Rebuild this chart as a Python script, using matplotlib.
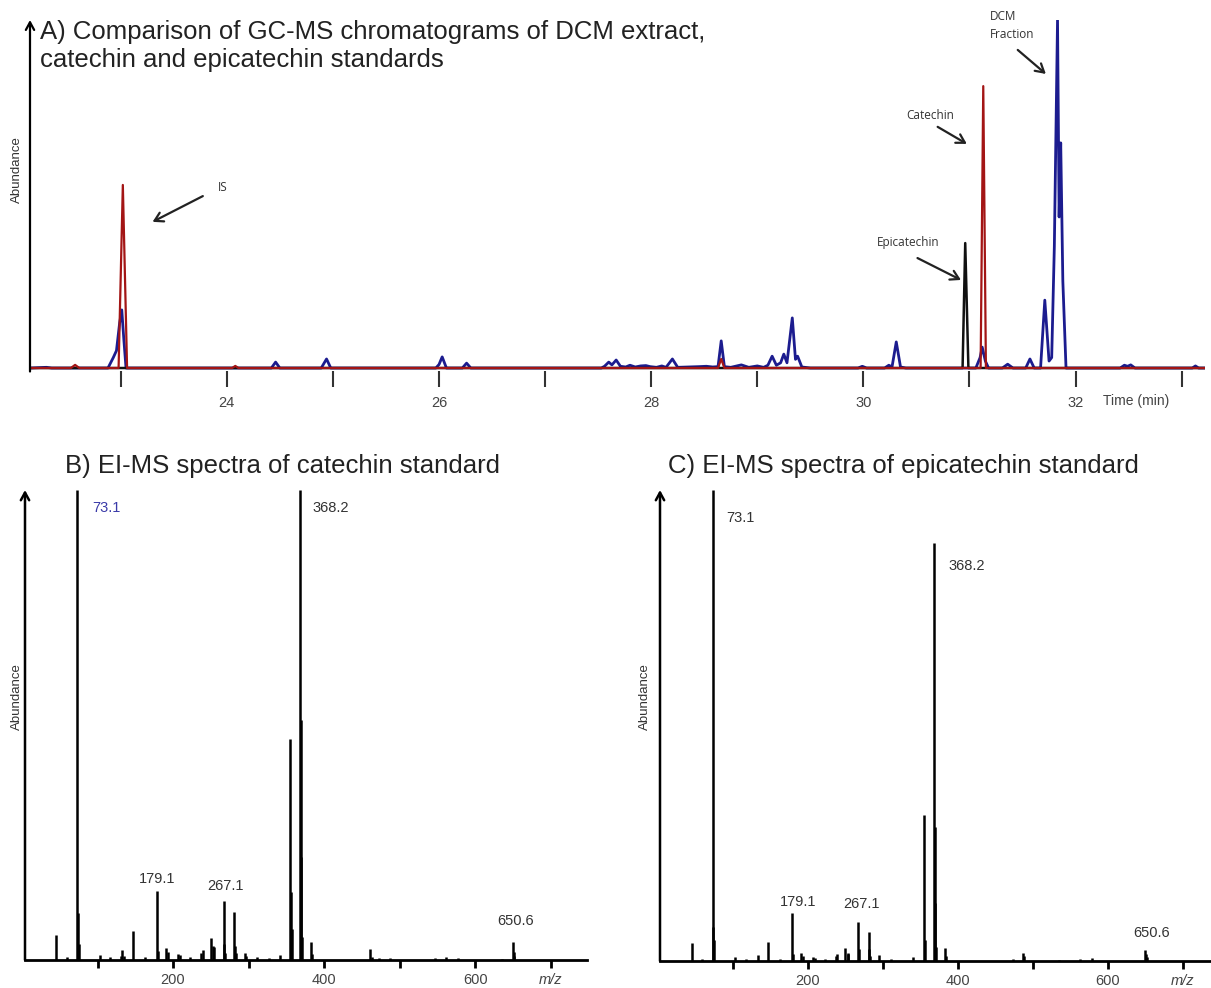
import matplotlib
matplotlib.use("Agg")
import matplotlib.pyplot as plt

W, H = 1211, 988
plt.rcParams['font.family'] = ['Liberation Sans', 'DejaVu Sans']

# ---------------- data: GC-MS chromatograms (time in min, abundance in % of max) ------
dcm_time = [22.15, 22.30, 22.35, 22.88, 22.93, 22.96, 22.99, 23.01, 23.03, 23.05,
            24.42, 24.46, 24.50, 24.89, 24.94, 24.98,
            25.97, 26.00, 26.03, 26.07, 26.22, 26.26, 26.30,
            27.53, 27.56, 27.60, 27.63, 27.67, 27.71, 27.76, 27.80, 27.85, 27.90, 27.95,
            27.99, 28.05, 28.10, 28.14, 28.20, 28.25, 28.35, 28.45, 28.52, 28.58, 28.63,
            28.66, 28.69, 28.75, 28.85, 28.92, 29.00, 29.06, 29.10, 29.14, 29.18, 29.22,
            29.25, 29.28, 29.33, 29.36, 29.38, 29.42, 29.50,
            29.95, 29.99, 30.03, 30.20, 30.24, 30.27, 30.31, 30.35, 30.40,
            31.06, 31.10, 31.12, 31.15, 31.18, 31.31, 31.36, 31.41, 31.53, 31.57, 31.61,
            31.67, 31.71, 31.75, 31.775, 31.80, 31.83, 31.845, 31.86, 31.88, 31.91,
            32.42, 32.46, 32.49, 32.52, 32.56, 33.10, 33.13, 33.16, 33.22]
dcm_abund = [0, 0.2, 0, 0, 3, 5, 13, 16.7, 8, 0,
             0, 1.7, 0, 0, 2.6, 0,
             0, 1.0, 3.2, 0, 0, 1.4, 0,
             0, 0.5, 1.7, 0.9, 2.3, 0.5, 0.3, 0.8, 0.3, 0.6, 0.7,
             0.4, 0.2, 0.6, 0.2, 2.6, 0.2, 0.3, 0.4, 0.5, 0.3, 0.4,
             7.8, 0.4, 0.2, 0.9, 0.2, 0.6, 0.2, 0.8, 3.4, 0.8, 1.5,
             4.0, 1.5, 14.4, 2.5, 3.4, 0.3, 0,
             0, 0.5, 0, 0, 0.8, 0.3, 7.5, 0.3, 0,
             0, 3, 6, 2, 0, 0, 1.1, 0, 0, 2.6, 0,
             0, 19.5, 2, 3, 35, 100, 43.4, 64.7, 25, 0,
             0, 0.8, 0.5, 0.9, 0, 0, 0.6, 0, 0]

cat_time = [22.15, 22.53, 22.57, 22.61, 22.98, 23.02, 23.06, 24.05, 24.08, 24.11,
            28.63, 28.66, 28.69, 31.105, 31.13, 31.155, 33.22]
cat_abund = [0, 0, 0.9, 0, 0, 52.6, 0, 0, 0.6, 0,
             0, 2.6, 0, 0, 81, 0, 0]

epi_time = [22.15, 30.935, 30.96, 30.99, 33.22]
epi_abund = [0, 0, 35.9, 0, 0]

time_ticks = [23, 24, 25, 26, 27, 28, 29, 30, 31, 32, 33]
time_ticklabels = ['', '24', '', '26', '', '28', '', '30', '', '32', '']

# ---------------- data: EI-MS spectra (m/z, relative abundance %) ------------------
cat_mz = [45, 59, 73, 74, 75, 103, 117, 131, 133, 135, 147, 163, 179, 180, 191, 193,
          207, 209, 223, 237, 239, 250, 253, 254, 267, 268, 269, 281, 282, 283, 295,
          297, 311, 327, 341, 355, 356, 357, 368, 369, 370, 371, 383, 384, 461, 463,
          473, 487, 547, 561, 577, 635, 650, 651, 652]
cat_int = [5.3, 0.7, 100, 10, 3.5, 1.0, 0.6, 0.8, 2.2, 0.8, 6.2, 0.6, 14.7, 2.0, 2.6, 1.8,
           1.2, 1.0, 0.6, 1.5, 2.2, 4.6, 3.0, 2.8, 12.6, 3.5, 1.5, 10.3, 3.0, 1.5, 1.4,
           0.8, 0.6, 0.5, 1.0, 47, 14.5, 6.7, 100, 51, 22, 5, 3.9, 1.2, 2.3, 0.6,
           0.4, 0.4, 0.4, 0.6, 0.5, 0.3, 3.9, 1.8, 0.8]

epi_mz = [45, 59, 73, 74, 75, 103, 117, 133, 147, 163, 179, 180, 191, 193, 207, 209,
          223, 237, 239, 249, 253, 254, 267, 268, 281, 282, 283, 295, 311, 340, 355,
          356, 368, 369, 370, 371, 383, 384, 473, 487, 488, 535, 563, 579, 650, 651, 652]
epi_int = [3.8, 0.5, 100, 7.2, 4.5, 0.8, 0.5, 1.3, 4.0, 0.4, 10.2, 1.5, 1.7, 1.0, 0.8, 0.7,
           0.4, 1.0, 1.5, 2.8, 1.6, 1.4, 8.3, 2.5, 6.2, 2.5, 1.0, 1.2, 0.4, 0.8, 31,
           4.5, 88.7, 28.5, 12.3, 3.0, 2.8, 1.0, 0.4, 1.7, 1.0, 0.3, 0.4, 0.6, 2.3, 1.5, 0.8]

mz_ticks = [100, 200, 300, 400, 500, 600, 700]
mz_ticklabels = ['', '200', '', '400', '', '600', 'm/z']

cat_labels = ['73.1', '179.1', '267.1', '368.2', '650.6']
cat_label_pos = [(92.7, 96.2, 'left'), (179, 17.2, 'center'), (269, 15.7, 'center'),
                 (385, 96.2, 'left'), (654, 8.3, 'center')]
epi_labels = ['73.1', '179.1', '267.1', '368.2', '650.6']
epi_label_pos = [(90.7, 94.0, 'left'), (186.7, 12.5, 'center'), (272, 12.1, 'center'),
                 (388, 83.9, 'left'), (658.7, 5.9, 'center')]

BLUE = '#1c1c8f'
RED = '#a31515'
GREY = '#333333'

fig = plt.figure(figsize=(W / 100, H / 100), dpi=100)


def box(l, t, r, b):
    return [l / W, 1 - b / H, (r - l) / W, (b - t) / H]


def axis_arrow(ax, lw=1.6):
    ax.annotate('', xy=(0, 1), xycoords='axes fraction', xytext=(0, 0),
                textcoords='axes fraction',
                arrowprops=dict(arrowstyle='->,head_length=0.55,head_width=0.3',
                                lw=lw, color='black', shrinkA=0, shrinkB=0),
                annotation_clip=False)


# ---------------- Panel A -----------------------------------------------------------
axA = fig.add_axes(box(30, 20, 1205, 371.5))
axA.plot(dcm_time, dcm_abund, color=BLUE, lw=2.0, solid_joinstyle='round')
axA.plot(epi_time, epi_abund, color='#111111', lw=1.8, solid_joinstyle='round')
axA.plot(cat_time, cat_abund, color=RED, lw=1.6, solid_joinstyle='round')
axA.set_xlim(22.145, 33.22)
axA.set_ylim(-1, 100)
for s in axA.spines.values():
    s.set_visible(False)
axA.set_yticks([])
axA.set_xticks(time_ticks)
axA.set_xticklabels(time_ticklabels)
axA.tick_params(axis='x', direction='out', length=11.5, width=1.5, color=GREY,
                labelsize=10.5, labelcolor='#444444', pad=6)
axis_arrow(axA)
axA.text(32.57, -0.085, 'Time (min)', transform=axA.get_xaxis_transform(),
         ha='center', va='center', fontsize=10, color='#444444')

ann_font = dict(family=['Open Sans', 'DejaVu Sans'], fontsize=8.5, color=GREY)
arrow_kw = dict(arrowstyle='->,head_length=0.6,head_width=0.35', lw=1.6, color='#222222',
                shrinkA=0, shrinkB=0)
axA.text(23.915, 52, 'IS', ha='left', va='center', **ann_font)
axA.annotate('', xy=(23.30, 42), xytext=(23.774, 49.4), arrowprops=arrow_kw)
axA.text(30.626, 72.7, 'Catechin', ha='center', va='center', **ann_font)
axA.annotate('', xy=(30.975, 64.4), xytext=(30.70, 69.3), arrowprops=arrow_kw)
axA.text(30.418, 36.2, 'Epicatechin', ha='center', va='center', **ann_font)
axA.annotate('', xy=(30.92, 25.3), xytext=(30.51, 31.6), arrowprops=arrow_kw)
axA.text(31.19, 98.3, 'DCM\nFraction', ha='left', va='center', linespacing=1.5, **ann_font)
axA.annotate('', xy=(31.72, 84.5), xytext=(31.455, 91.4), arrowprops=arrow_kw)

fig.text(40 / W, 1 - 46 / H,
         'A) Comparison of GC-MS chromatograms of DCM extract,\ncatechin and epicatechin standards',
         ha='left', va='center', fontsize=18.5, color='#222222', linespacing=1.25)
fig.text(17 / W, 1 - 170 / H, 'Abundance', rotation=90, ha='center', va='center',
         fontsize=9.5, color=GREY)


# ---------------- Panels B and C ----------------------------------------------------
def spectrum(ax, mz, inten, labels, label_pos, label_colors, xlim):
    ax.vlines(mz, 0, inten, color='black', lw=1.8)
    ax.set_xlim(*xlim)
    ax.set_ylim(0, 100)
    for k in ('top', 'right', 'left'):
        ax.spines[k].set_visible(False)
    ax.spines['bottom'].set_linewidth(2.0)
    ax.set_yticks([])
    ax.set_xticks(mz_ticks)
    ax.set_xticklabels(mz_ticklabels)
    ax.tick_params(axis='x', direction='out', length=6, width=2, color='black',
                   labelsize=10.5, labelcolor='#444444', pad=3)
    ax.get_xticklabels()[-1].set_fontstyle('italic')
    axis_arrow(ax, lw=1.8)
    for lab, (x, y, ha), c in zip(labels, label_pos, label_colors):
        ax.text(x, y, lab, ha=ha, va='center', fontsize=10.5, color=c)


axB = fig.add_axes(box(25, 490, 587, 960))
spectrum(axB, cat_mz, cat_int, cat_labels, cat_label_pos,
         ['#3a3aa8', GREY, GREY, GREY, GREY], (4, 748))
fig.text(65 / W, 1 - 466 / H, 'B) EI-MS spectra of catechin standard',
         ha='left', va='center', fontsize=18.5, color='#222222')
fig.text(17 / W, 1 - 697 / H, 'Abundance', rotation=90, ha='center', va='center',
         fontsize=9.5, color=GREY)

axC = fig.add_axes(box(660, 490, 1219, 961))
spectrum(axC, epi_mz, epi_int, epi_labels, epi_label_pos,
         [GREY] * 5, (3, 748))
fig.text(668 / W, 1 - 466 / H, 'C) EI-MS spectra of epicatechin standard',
         ha='left', va='center', fontsize=18.5, color='#222222')
fig.text(645 / W, 1 - 697 / H, 'Abundance', rotation=90, ha='center', va='center',
         fontsize=9.5, color=GREY)

fig.savefig('out.png', dpi=100)
